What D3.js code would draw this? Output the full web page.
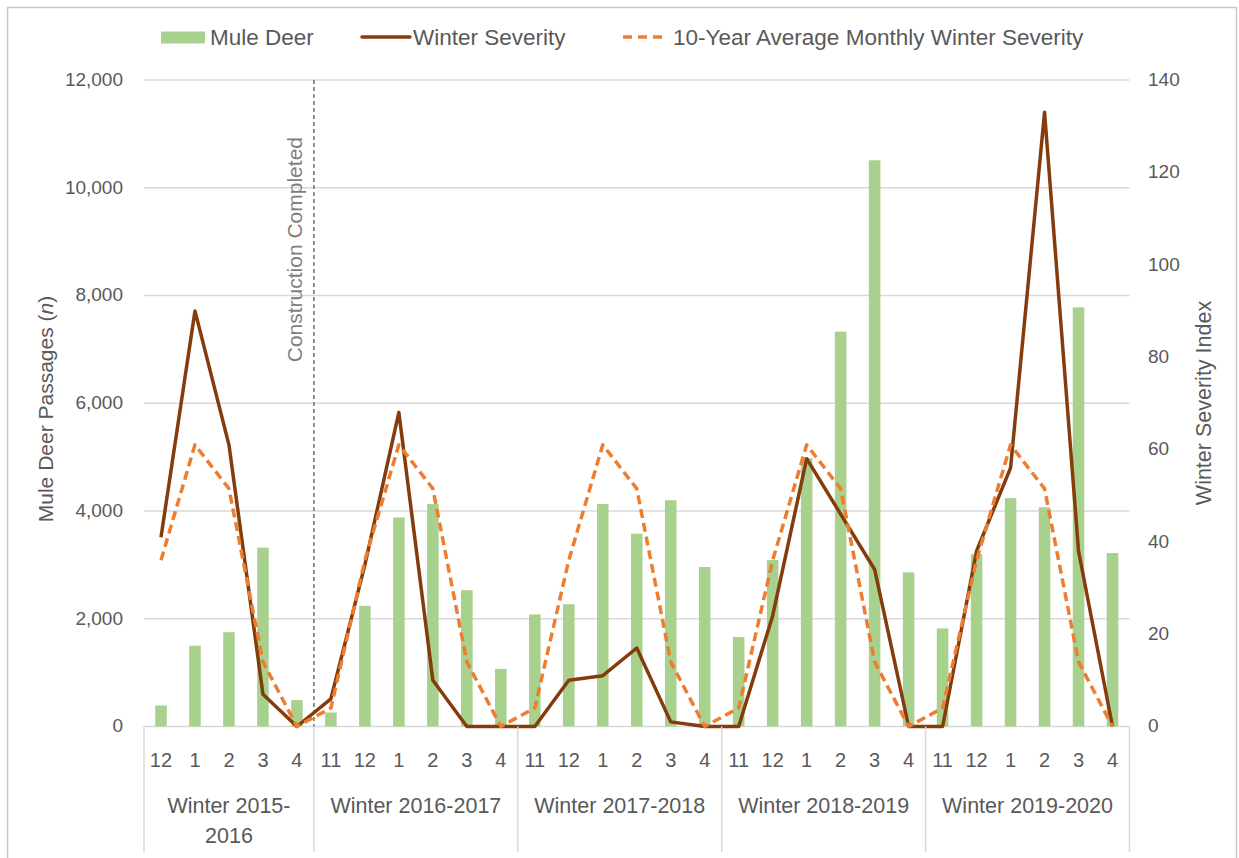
<!DOCTYPE html>
<html>
<head>
<meta charset="utf-8">
<script src="https://cdn.jsdelivr.net/npm/d3@7"></script>
<style>
  html, body { margin: 0; padding: 0; background: #fff; }
  svg { display: block; font-family: "Liberation Sans", Arial, sans-serif; }
</style>
</head>
<body>
<svg id="chart" width="1239" height="858"></svg>
<script>
// ---------------- DATA ----------------
const seasons = ["Winter 2015-2016", "Winter 2016-2017", "Winter 2017-2018", "Winter 2018-2019", "Winter 2019-2020"];
const seasonMonths = [
  ["12", "1", "2", "3", "4"],
  ["11", "12", "1", "2", "3", "4"],
  ["11", "12", "1", "2", "3", "4"],
  ["11", "12", "1", "2", "3", "4"],
  ["11", "12", "1", "2", "3", "4"]
];
const muleDeer = [
  390, 1500, 1750, 3320, 490,
  260, 2240, 3880, 4130, 2530, 1070,
  2080, 2270, 4130, 3580, 4200, 2960,
  1660, 3090, 4980, 7330, 10510, 2860,
  1820, 3200, 4240, 4070, 7780, 3220
];
const winterSeverity = [
  41, 90, 61, 7, 0,
  6, 35, 68, 10, 0, 0,
  0, 10, 11, 17, 1, 0,
  0, 24, 58, 46, 34, 0,
  0, 38, 56, 133, 38, 0
];
const tenYearAvg = [
  36, 61, 51.5, 14, 0,
  4, 36, 61, 51.5, 14, 0,
  4, 36, 61, 51.5, 14, 0,
  4, 36, 61, 51.5, 14, 0,
  4, 36, 61, 51.5, 14, 0
];
const leftTicks = [0, 2000, 4000, 6000, 8000, 10000, 12000];
const rightTicks = [0, 20, 40, 60, 80, 100, 120, 140];
const legendLabels = ["Mule Deer", "Winter Severity", "10-Year Average Monthly Winter Severity"];
const constructionLabel = "Construction Completed";
const constructionAfterSeason = 0; // line drawn after the first season
const leftTitle = ["Mule Deer Passages (", "n", ")"];
const rightTitle = "Winter Severity Index";

// ---------------- BUILD ----------------
const cats = [];
seasonMonths.forEach((ms, si) => ms.forEach(m => cats.push({ season: si, month: m })));
cats.forEach((c, i) => { c.i = i; c.deer = muleDeer[i]; c.sev = winterSeverity[i]; c.avg = tenYearAvg[i]; });

const TEXT = "#595959";
const GRID = "#D9D9D9";
const GREEN = "#A9D18E";
const BROWN = "#843C0C";
const ORANGE = "#ED7D31";

const plot = { left: 144, right: 1129.5, top: 80, bottom: 726.5 };
const svg = d3.select("#chart");

// outer border
svg.append("rect").attr("x", 7.5).attr("y", 7.5).attr("width", 1229).attr("height", 880)
  .attr("fill", "none").attr("stroke", "#C8C8C8").attr("stroke-width", 1.5);

const x = d3.scaleBand().domain(cats.map(c => c.i)).range([plot.left, plot.right]).padding(0);
const yL = d3.scaleLinear().domain([0, 12000]).range([plot.bottom, plot.top]);
const yR = d3.scaleLinear().domain([0, 140]).range([plot.bottom, plot.top]);
const cx = i => x(i) + x.bandwidth() / 2;

// gridlines
svg.append("g").selectAll("line").data(leftTicks).join("line")
  .attr("x1", plot.left).attr("x2", plot.right)
  .attr("y1", d => yL(d)).attr("y2", d => yL(d))
  .attr("stroke", GRID).attr("stroke-width", 1.5);

// left axis
const leftAxis = d3.axisLeft(yL).tickValues(leftTicks).tickFormat(d3.format(",")).tickSize(0).tickPadding(21);
const gL = svg.append("g").attr("transform", `translate(${plot.left},0)`).call(leftAxis);
gL.select(".domain").remove();
gL.selectAll("text").attr("fill", TEXT).attr("font-size", 19).attr("font-family", "Liberation Sans, Arial, sans-serif").attr("dy", "0.28em");

// right axis
const rightAxis = d3.axisRight(yR).tickValues(rightTicks).tickSize(0).tickPadding(18.5);
const gR = svg.append("g").attr("transform", `translate(${plot.right},0)`).call(rightAxis);
gR.select(".domain").remove();
gR.selectAll("text").attr("fill", TEXT).attr("font-size", 19).attr("font-family", "Liberation Sans, Arial, sans-serif").attr("dy", "0.28em");

// bars
const barW = x.bandwidth() * 0.34;
svg.append("g").selectAll("rect").data(cats).join("rect")
  .attr("x", d => cx(d.i) - barW / 2)
  .attr("width", barW)
  .attr("y", d => yL(d.deer))
  .attr("height", d => yL(0) - yL(d.deer))
  .attr("fill", GREEN);

// construction line
const seasonStarts = [];
{ let k = 0; seasonMonths.forEach(ms => { seasonStarts.push(k); k += ms.length; }); seasonStarts.push(k); }
const boundaryX = si => si >= cats.length ? plot.right : x(si);
const consX = boundaryX(seasonStarts[constructionAfterSeason + 1]);
svg.append("line").attr("x1", consX).attr("x2", consX).attr("y1", plot.top).attr("y2", plot.bottom)
  .attr("stroke", "#767676").attr("stroke-width", 1.6).attr("stroke-dasharray", "4,3");
svg.append("text").attr("transform", `translate(${consX - 12},137) rotate(-90)`)
  .attr("text-anchor", "end").attr("font-size", 21).attr("fill", "#7F7F7F").text(constructionLabel);

// lines (winter severity first, 10-year average drawn over it)
const lineSev = d3.line().x(d => cx(d.i)).y(d => yR(d.sev));
const lineAvg = d3.line().x(d => cx(d.i)).y(d => yR(d.avg));
svg.append("path").datum(cats).attr("d", lineSev).attr("fill", "none")
  .attr("stroke", BROWN).attr("stroke-width", 3.5).attr("stroke-linejoin", "round");
svg.append("path").datum(cats).attr("d", lineAvg).attr("fill", "none")
  .attr("stroke", ORANGE).attr("stroke-width", 3.5).attr("stroke-dasharray", "9,5").attr("stroke-linejoin", "round");

// x axis: separators
const sepXs = seasonStarts.map(s => boundaryX(s));
svg.append("g").selectAll("line").data(sepXs).join("line")
  .attr("x1", d => d).attr("x2", d => d).attr("y1", plot.bottom).attr("y2", 852)
  .attr("stroke", GRID).attr("stroke-width", 1.5);

// month labels
svg.append("g").selectAll("text").data(cats).join("text")
  .attr("x", d => cx(d.i)).attr("y", 767).attr("text-anchor", "middle")
  .attr("font-size", 20).attr("fill", TEXT).text(d => d.month);

// season labels (wrap at hyphen if too wide)
const gS = svg.append("g");
seasons.forEach((s, si) => {
  const x0 = sepXs[si], x1 = sepXs[si + 1];
  const mid = (x0 + x1) / 2;
  const t = gS.append("text").attr("x", mid).attr("y", 813).attr("text-anchor", "middle")
    .attr("font-size", 21.5).attr("fill", TEXT).text(s);
  if (t.node().getComputedTextLength() > (x1 - x0) - 10) {
    const cut = s.lastIndexOf("-");
    t.text(s.slice(0, cut + 1));
    gS.append("text").attr("x", mid).attr("y", 843).attr("text-anchor", "middle")
      .attr("font-size", 21.5).attr("fill", TEXT).text(s.slice(cut + 1));
  }
});

// axis titles
const lt = svg.append("text").attr("transform", "translate(53,409) rotate(-90)")
  .attr("text-anchor", "middle").attr("font-size", 21).attr("fill", TEXT);
lt.append("tspan").text(leftTitle[0]);
lt.append("tspan").attr("font-style", "italic").text(leftTitle[1]);
lt.append("tspan").text(leftTitle[2]);
svg.append("text").attr("transform", "translate(1211,403) rotate(-90)")
  .attr("text-anchor", "middle").attr("font-size", 21.5).attr("fill", TEXT).text(rightTitle);

// legend
const lg = svg.append("g");
lg.append("rect").attr("x", 161).attr("y", 31.5).attr("width", 44).attr("height", 12).attr("fill", GREEN);
lg.append("text").attr("x", 210).attr("y", 45).attr("font-size", 22.5).attr("fill", TEXT).text(legendLabels[0]);
lg.append("line").attr("x1", 362).attr("x2", 410).attr("y1", 37).attr("y2", 37)
  .attr("stroke", BROWN).attr("stroke-width", 3.5).attr("stroke-linecap", "round");
lg.append("text").attr("x", 413).attr("y", 45).attr("font-size", 22.5).attr("fill", TEXT).text(legendLabels[1]);
lg.append("line").attr("x1", 623).attr("x2", 664).attr("y1", 37).attr("y2", 37)
  .attr("stroke", ORANGE).attr("stroke-width", 3.5).attr("stroke-dasharray", "9,6");
lg.append("text").attr("x", 673).attr("y", 45).attr("font-size", 22.5).attr("fill", TEXT).text(legendLabels[2]);
</script>
</body>
</html>
